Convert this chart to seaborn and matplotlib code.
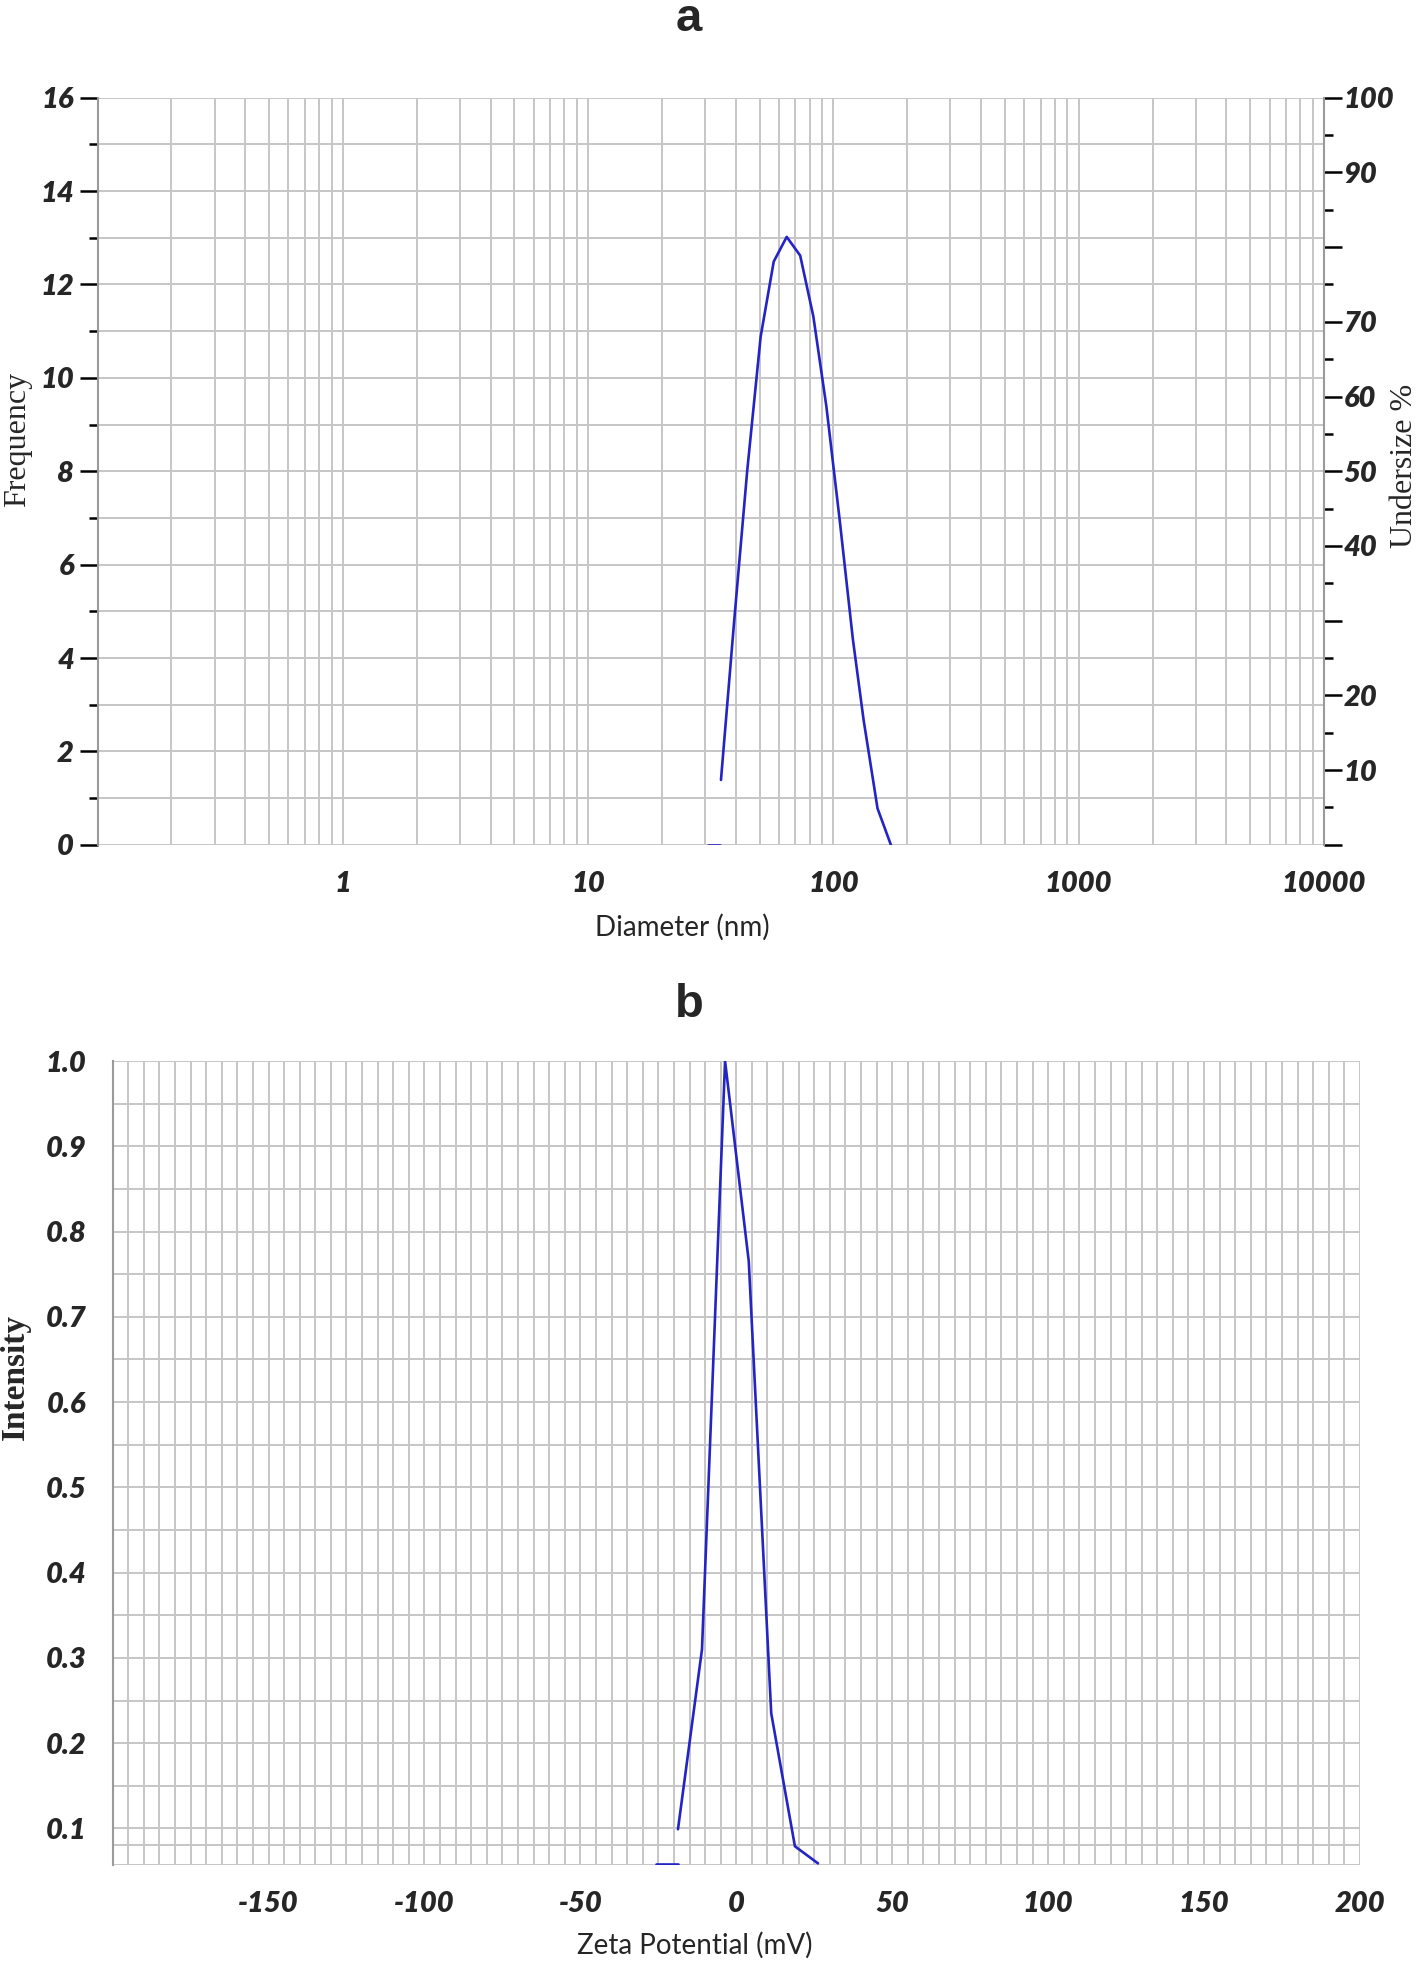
import numpy as np
import pandas as pd
import matplotlib
matplotlib.use("Agg")
import matplotlib.pyplot as plt
import seaborn as sns

# ---- data: panel a (DLS size distribution) ----
diam_nm = [34.8, 39.4, 44.5, 50.5, 57.1, 64.5, 73.2, 82.8, 93.6, 106.2, 120.0, 132.8, 151.3, 171.5]
freq = [1.39, 4.8, 8.0, 10.88, 12.49, 13.02, 12.62, 11.32, 9.39, 6.93, 4.41, 2.67, 0.78, 0.0]
base_a_nm = [30.7, 34.6]
base_a_freq = [0.0, 0.0]

x_major_a = [0.1, 1, 10, 100, 1000, 10000]
x_major_a_lbl = ["", "1", "10", "100", "1000", "10000"]
y_left_a = [0, 2, 4, 6, 8, 10, 12, 14, 16]
y_right_a = [0, 10, 20, 30, 40, 50, 60, 70, 80, 90, 100]
y_right_a_lbl = ["", "10", "20", "", "40", "50", "60", "70", "", "90", "100"]

# ---- data: panel b (zeta potential) ----
zeta_mv = [-18.7, -11.0, -3.6, 4.0, 11.2, 18.8, 26.2]
intensity = [0.099, 0.31, 1.0, 0.765, 0.235, 0.079, 0.059]
base_b_mv = [-25.9, -18.7]
base_b_int = [0.058, 0.058]

x_major_b = [-200, -150, -100, -50, 0, 50, 100, 150, 200]
x_major_b_lbl = ["", "-150", "-100", "-50", "0", "50", "100", "150", "200"]
y_bottom_b = 0.057
y_major_b = [y_bottom_b, 0.1, 0.2, 0.3, 0.4, 0.5, 0.6, 0.7, 0.8, 0.9, 1.0]
y_major_b_lbl = ["", "0.1", "0.2", "0.3", "0.4", "0.5", "0.6", "0.7", "0.8", "0.9", "1.0"]

sns.set_style("white")
plt.rcParams["font.family"] = ["Lato", "DejaVu Sans"]

LINE = "#2424c4"
GRID = "#c6c6c6"
SPINE = "#9a9a9a"
tick_font = dict(family="Lato", weight="heavy", style="italic", size=21)

fig = plt.figure(figsize=(14.18, 19.62), dpi=100)

# ================= panel a =================
ax = fig.add_axes([0.0688, 0.5694, 0.8649, 0.3808])
ax.set_xscale("log")
sns.lineplot(x=base_a_nm, y=base_a_freq, ax=ax, color=LINE, lw=1.9, sort=False, estimator=None)
sns.lineplot(x=diam_nm, y=freq, ax=ax, color=LINE, lw=1.9, sort=False, estimator=None)
ax.set_xlim(0.1, 10000)
ax.set_ylim(0, 16)

ax.set_xticks(x_major_a)
ax.set_xticklabels(x_major_a_lbl)
minors = [k * 10.0 ** d for d in range(-1, 4) for k in range(2, 10)]
ax.set_xticks(minors, minor=True)
ax.set_xticklabels([], minor=True)
ax.set_yticks(y_left_a)
ax.set_yticklabels([str(v) for v in y_left_a])
ax.set_yticks(np.arange(1, 16, 2), minor=True)

ax.grid(True, which="both", color=GRID, lw=1.4)
ax.set_axisbelow(True)
for s in ["top", "bottom", "right"]:
    ax.spines[s].set_visible(False)
ax.spines["left"].set_color(SPINE)
ax.spines["left"].set_linewidth(1.5)
ax.tick_params(axis="both", which="major", length=13, width=1.8, color="black", pad=4)
ax.tick_params(axis="x", which="major", pad=6)
ax.tick_params(axis="both", which="minor", length=6.5, width=1.8, color="black")
for lbl in ax.get_xticklabels() + ax.get_yticklabels():
    lbl.set_fontproperties(tick_font)

ax.set_xlabel("Diameter (nm)", fontsize=20, family="Lato", va="center")
ax.xaxis.set_label_coords(0.477, -0.11)
ax.set_ylabel("Frequency", fontsize=23, family="Liberation Serif", va="center")
ax.yaxis.set_label_coords(-0.0653, 0.542)

ax2 = ax.twinx()
ax2.set_ylim(0, 100)
ax2.set_yticks(y_right_a)
ax2.set_yticklabels(y_right_a_lbl)
ax2.set_yticks(np.arange(5, 100, 10), minor=True)
for s in ["top", "bottom", "left"]:
    ax2.spines[s].set_visible(False)
ax2.spines["right"].set_color(SPINE)
ax2.spines["right"].set_linewidth(1.5)
ax2.tick_params(axis="y", which="major", length=13, width=1.8, color="black", pad=1)
ax2.tick_params(axis="y", which="minor", length=6.5, width=1.8, color="black")
for lbl in ax2.get_yticklabels():
    lbl.set_fontproperties(tick_font)
ax2.set_ylabel("Undersize %", fontsize=23, family="Liberation Serif", rotation=90, va="center")
ax2.yaxis.set_label_coords(1.066, 0.5075)

# ================= panel b =================
bx = fig.add_axes([0.0794, 0.0494, 0.8797, 0.4098])
sns.lineplot(x=base_b_mv, y=base_b_int, ax=bx, color=LINE, lw=1.9, sort=False, estimator=None)
sns.lineplot(x=zeta_mv, y=intensity, ax=bx, color=LINE, lw=1.9, sort=False, estimator=None)
bx.set_xlim(-200, 200)
bx.set_ylim(y_bottom_b, 1.0)

bx.set_xticks(x_major_b)
bx.set_xticklabels(x_major_b_lbl)
bx.set_xticks(np.arange(-195, 200, 5), minor=True)
bx.set_yticks(y_major_b)
bx.set_yticklabels(y_major_b_lbl)
bx.set_yticks(np.arange(0.15, 1.0, 0.1), minor=True)

bx.grid(True, which="both", color=GRID, lw=1.4)
bx.axhline(0.08, color=GRID, lw=1.4, zorder=0)
bx.set_axisbelow(True)
for s in ["top", "bottom", "right"]:
    bx.spines[s].set_visible(False)
bx.spines["left"].set_color(SPINE)
bx.spines["left"].set_linewidth(1.5)
bx.tick_params(axis="both", which="major", length=14, width=1.8, color="black", pad=5)
bx.tick_params(axis="both", which="minor", length=6.5, width=1.8, color="black")
for lbl in bx.get_xticklabels() + bx.get_yticklabels():
    lbl.set_fontproperties(tick_font)

bx.set_xlabel("Zeta Potential (mV)", fontsize=20, family="Lato", va="center")
bx.xaxis.set_label_coords(0.4666, -0.1)
bx.set_ylabel("Intensity", fontsize=24, family="Liberation Serif", weight="bold", va="center")
bx.yaxis.set_label_coords(-0.078, 0.607)

# panel letters
fig.text(0.4859, 0.9903, "a", ha="center", va="center", fontsize=34,
         family="Liberation Sans", weight="bold")
fig.text(0.4859, 0.4878, "b", ha="center", va="center", fontsize=34,
         family="Liberation Sans", weight="bold")

fig.savefig("out.png", dpi=100, facecolor="white")
